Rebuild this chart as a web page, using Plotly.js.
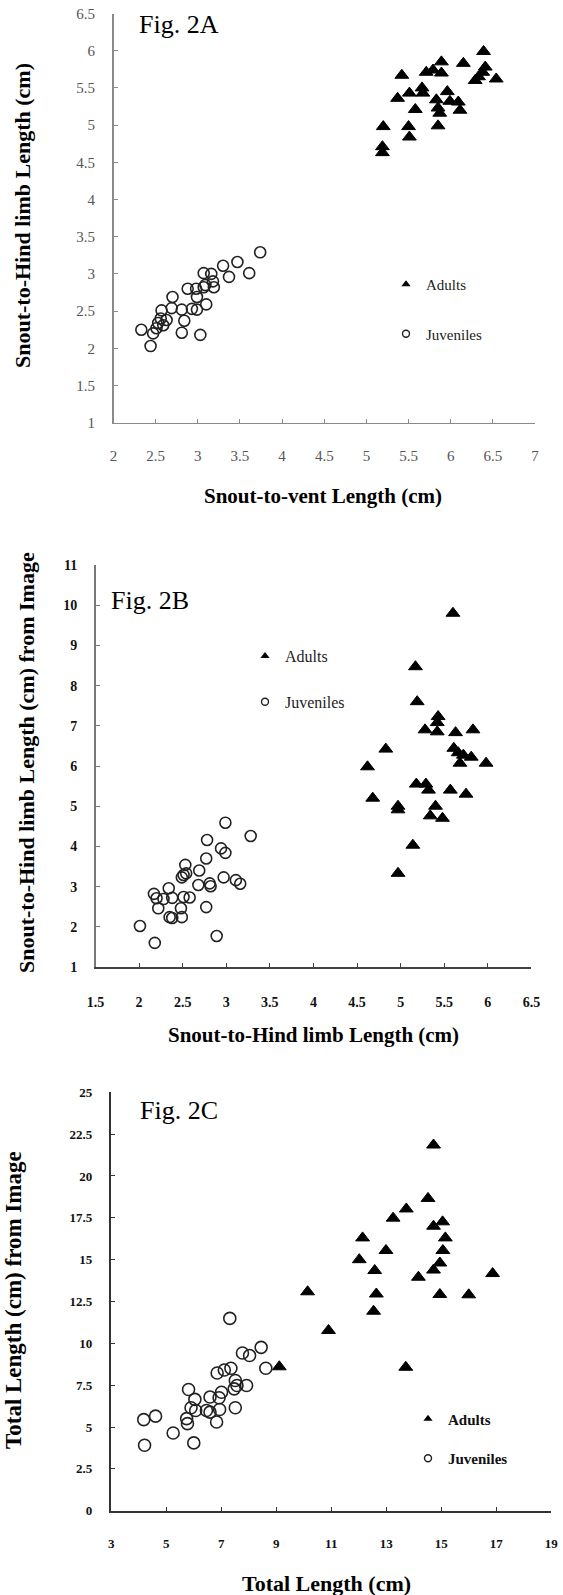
<!DOCTYPE html>
<html><head><meta charset="utf-8">
<script src="https://cdn.plot.ly/plotly-3.0.1.min.js"></script>
<style>html,body{margin:0;padding:0;background:#fff}#chart{width:563px;height:1595px}</style>
</head><body><div id="chart"></div>
<script>
// ---- Fig. 2A : Snout-to-vent vs Snout-to-Hind limb ----
const aAdultsX = [6.39,6.15,5.89,5.79,5.71,5.89,5.42,6.41,6.38,6.33,6.29,6.54,5.66,5.67,5.51,5.37,5.96,5.83,5.99,6.09,5.85,5.87,6.11,5.58,5.20,5.50,5.85,5.51,5.19,5.19];
const aAdultsY = [5.99,5.83,5.85,5.74,5.71,5.70,5.67,5.78,5.71,5.65,5.60,5.62,5.50,5.43,5.43,5.36,5.45,5.34,5.32,5.31,5.23,5.16,5.20,5.21,4.98,4.98,4.99,4.84,4.71,4.63];
const aJuvX = [3.74,3.47,3.30,3.61,3.37,3.07,3.16,3.18,3.19,3.09,3.07,2.98,2.88,2.99,2.70,2.69,2.81,2.93,2.99,3.10,2.57,2.56,2.53,2.59,2.51,2.47,2.84,2.81,3.03,2.33,2.44,2.63];
const aJuvY = [3.29,3.16,3.11,3.01,2.96,3.01,3.00,2.90,2.82,2.85,2.82,2.80,2.80,2.69,2.69,2.54,2.52,2.53,2.52,2.59,2.51,2.40,2.34,2.31,2.27,2.20,2.37,2.21,2.18,2.25,2.03,2.38];

// ---- Fig. 2B : Snout-to-Hind limb vs from Image ----
const bAdultsX = [5.60,5.17,5.19,5.43,5.42,5.28,5.42,5.63,5.83,4.83,5.61,5.66,5.72,5.81,5.68,5.98,4.62,5.18,5.29,5.32,5.57,5.75,4.68,4.97,4.97,5.40,5.34,5.48,5.14,4.97];
const bAdultsY = [9.80,8.47,7.60,7.23,7.08,6.90,6.85,6.83,6.90,6.42,6.44,6.33,6.27,6.22,6.07,6.07,5.98,5.55,5.55,5.40,5.40,5.30,5.20,5.00,4.91,5.00,4.76,4.70,4.03,3.33];
const bJuvX = [2.99,3.28,2.78,2.94,2.99,2.77,2.53,2.69,2.51,2.54,2.49,2.97,2.68,2.81,2.82,3.11,3.16,2.17,2.20,2.28,2.34,2.38,2.51,2.58,2.22,2.48,2.77,2.35,2.38,2.49,2.01,2.89,2.18];
const bJuvY = [4.59,4.26,4.16,3.95,3.84,3.70,3.54,3.40,3.29,3.33,3.23,3.23,3.04,3.08,3.01,3.16,3.07,2.82,2.71,2.69,2.96,2.72,2.74,2.73,2.46,2.46,2.49,2.24,2.22,2.24,2.02,1.77,1.60];

// ---- Fig. 2C : Total Length vs from Image ----
const cAdultsX = [14.72,14.52,13.73,13.25,14.72,15.05,15.15,12.14,12.99,15.06,12.02,14.95,14.72,12.58,14.17,16.87,10.14,12.64,14.95,16.0,12.54,10.9,9.11,13.71];
const cAdultsY = [21.85,18.66,18.03,17.48,17.0,17.26,16.3,16.3,15.55,15.55,15.0,14.8,14.38,14.35,13.95,14.17,13.08,12.95,12.92,12.9,11.92,10.77,8.6,8.57];
const cJuvX = [7.31,8.45,7.77,8.03,8.62,6.85,7.11,7.35,7.51,7.57,7.92,7.47,5.81,7.01,6.59,6.92,6.04,5.90,6.07,6.46,6.59,6.94,7.51,5.74,5.77,6.83,4.61,4.18,5.25,6.0,4.21];
const cJuvY = [11.49,9.76,9.42,9.27,8.51,8.23,8.41,8.51,7.78,7.48,7.48,7.28,7.24,7.08,6.79,6.75,6.65,6.15,5.99,5.99,5.89,6.05,6.15,5.50,5.20,5.30,5.65,5.44,4.64,4.05,3.91];

const seriesNames = ['Adults', 'Juveniles'];
const figLabels = ['Fig. 2A', 'Fig. 2B', 'Fig. 2C'];
const xTitles = ['Snout-to-vent Length (cm)', 'Snout-to-Hind limb Length (cm)', 'Total Length (cm)'];
const yTitles = ['Snout-to-Hind limb Length (cm)', 'Snout-to-Hind limb Length (cm) from Image', 'Total Length (cm) from Image'];

const W = 563, H = 1595;
const px = v => v / W;
const py = v => 1 - v / H;
const SERIF = '"Liberation Serif", "Times New Roman", serif';

function adults(x, y, xa, ya) {
  return {x, y, xaxis: xa, yaxis: ya, type: 'scatter', mode: 'markers', showlegend: false, hoverinfo: 'x+y',
    marker: {symbol: 'triangle-up', size: 12, color: '#000', line: {color: '#000', width: 1}}};
}
function juv(x, y, xa, ya, size) {
  return {x, y, xaxis: xa, yaxis: ya, type: 'scatter', mode: 'markers', showlegend: false, hoverinfo: 'x+y',
    marker: {symbol: 'circle-open', size: size, color: '#222', line: {color: '#222', width: 1.6}}};
}
// legend-only key traces (no visible points) so the key symbols can be small
function legendKeys(xa, ya, leg, g) {
  return [
    {x: [null], y: [null], xaxis: xa, yaxis: ya, type: 'scatter', mode: 'markers', name: seriesNames[0], legend: leg, legendgroup: g + '1',
      hoverinfo: 'skip', marker: {symbol: 'triangle-up', size: 8, color: '#000'}},
    {x: [null], y: [null], xaxis: xa, yaxis: ya, type: 'scatter', mode: 'markers', name: seriesNames[1], legend: leg, legendgroup: g + '2',
      hoverinfo: 'skip', marker: {symbol: 'circle-open', size: 7, color: '#222', line: {width: 1.4, color: '#222'}}}
  ];
}

const data = [
  adults(aAdultsX, aAdultsY, 'x', 'y'), juv(aJuvX, aJuvY, 'x', 'y', 11),
  adults(bAdultsX, bAdultsY, 'x2', 'y2'), juv(bJuvX, bJuvY, 'x2', 'y2', 11),
  adults(cAdultsX, cAdultsY, 'x3', 'y3'), juv(cJuvX, cJuvY, 'x3', 'y3', 12),
  ...legendKeys('x', 'y', 'legend', 'a'),
  ...legendKeys('x2', 'y2', 'legend2', 'b'),
  ...legendKeys('x3', 'y3', 'legend3', 'c')
];

function axis(opts) {
  return Object.assign({
    showgrid: false, zeroline: false, showline: true, ticks: 'inside', ticklen: 4,
    fixedrange: true, automargin: false
  }, opts);
}

const tickA = {family: SERIF, size: 15, color: '#555'};
const tickB = {family: SERIF, size: 14, color: '#111', weight: 'bold'};
const tickC = {family: SERIF, size: 13, color: '#111', weight: 'bold'};

function ann(text, x, y, size, opts) {
  return Object.assign({text, xref: 'paper', yref: 'paper', x: px(x), y: py(y), xanchor: 'center', yanchor: 'middle',
    showarrow: false, font: {family: SERIF, size: size, color: '#000', weight: 'bold'}}, opts || {});
}

const layout = {
  width: W, height: H, margin: {l: 0, r: 0, t: 0, b: 0},
  paper_bgcolor: '#fff', plot_bgcolor: '#fff', showlegend: true,
  font: {family: SERIF, color: '#000'},
  xaxis: axis({domain: [px(113.5), px(535)], range: [2, 7], tick0: 2, dtick: 0.5, anchor: 'y',
    linecolor: '#8a8a8a', linewidth: 1.5, tickcolor: '#8a8a8a', tickfont: tickA, ticklabelstandoff: 19}),
  yaxis: axis({domain: [py(422.7), py(13.5)], range: [1, 6.5], tick0: 1, dtick: 0.5, anchor: 'x',
    linecolor: '#8a8a8a', linewidth: 1.5, tickcolor: '#8a8a8a', tickfont: tickA, ticklabelstandoff: 14}),
  xaxis2: axis({domain: [px(95.5), px(531.4)], range: [1.5, 6.5], tick0: 1.5, dtick: 0.5, anchor: 'y2',
    linecolor: '#444', linewidth: 2, tickcolor: '#444', tickfont: tickB, ticklabelstandoff: 21}),
  yaxis2: axis({domain: [py(967), py(565)], range: [1, 11], tick0: 1, dtick: 1, anchor: 'x2',
    linecolor: '#777', linewidth: 1.5, tickcolor: '#777', tickfont: tickB, ticklabelstandoff: 14}),
  xaxis3: axis({domain: [px(111.3), px(551.2)], range: [3, 19], tick0: 3, dtick: 2, anchor: 'y3',
    linecolor: '#333', linewidth: 2, tickcolor: '#333', tickfont: tickC, ticklabelstandoff: 20}),
  yaxis3: axis({domain: [py(1510.7), py(1092.3)], range: [0, 25], tick0: 0, dtick: 2.5, anchor: 'x3',
    linecolor: '#333', linewidth: 2.5, tickcolor: '#333', tickfont: tickC, ticklabelstandoff: 14}),
  legend: {x: px(386), y: py(268), xanchor: 'left', yanchor: 'top', bgcolor: 'rgba(0,0,0,0)',
    traceorder: 'grouped', tracegroupgap: 27, itemsizing: 'trace',
    font: {family: SERIF, size: 15, color: '#222'}},
  legend2: {x: px(245), y: py(639), xanchor: 'left', yanchor: 'top', bgcolor: 'rgba(0,0,0,0)',
    traceorder: 'grouped', tracegroupgap: 22, itemsizing: 'trace',
    font: {family: SERIF, size: 16, color: '#222'}},
  legend3: {x: px(408), y: py(1402.5), xanchor: 'left', yanchor: 'top', bgcolor: 'rgba(0,0,0,0)',
    traceorder: 'grouped', tracegroupgap: 17, itemsizing: 'trace',
    font: {family: SERIF, size: 15, color: '#111', weight: 'bold'}},
  annotations: [
    ann(figLabels[0], 137, 25, 26, {xanchor: 'left', font: {family: SERIF, size: 26, color: '#000'}}),
    ann(figLabels[1], 109, 600, 26, {xanchor: 'left', font: {family: SERIF, size: 26, color: '#000'}}),
    ann(figLabels[2], 138, 1110, 26, {xanchor: 'left', font: {family: SERIF, size: 26, color: '#000'}}),
    ann(xTitles[0], 323, 496, 21),
    ann(yTitles[0], 22, 216, 22, {textangle: -90}),
    ann(xTitles[1], 313, 1035, 21),
    ann(yTitles[1], 26, 763, 22, {textangle: -90}),
    ann(xTitles[2], 326, 1583, 22),
    ann(yTitles[2], 13, 1300, 23, {textangle: -90})
  ]
};

Plotly.newPlot('chart', data, layout, {displayModeBar: false, staticPlot: true});
</script></body></html>
